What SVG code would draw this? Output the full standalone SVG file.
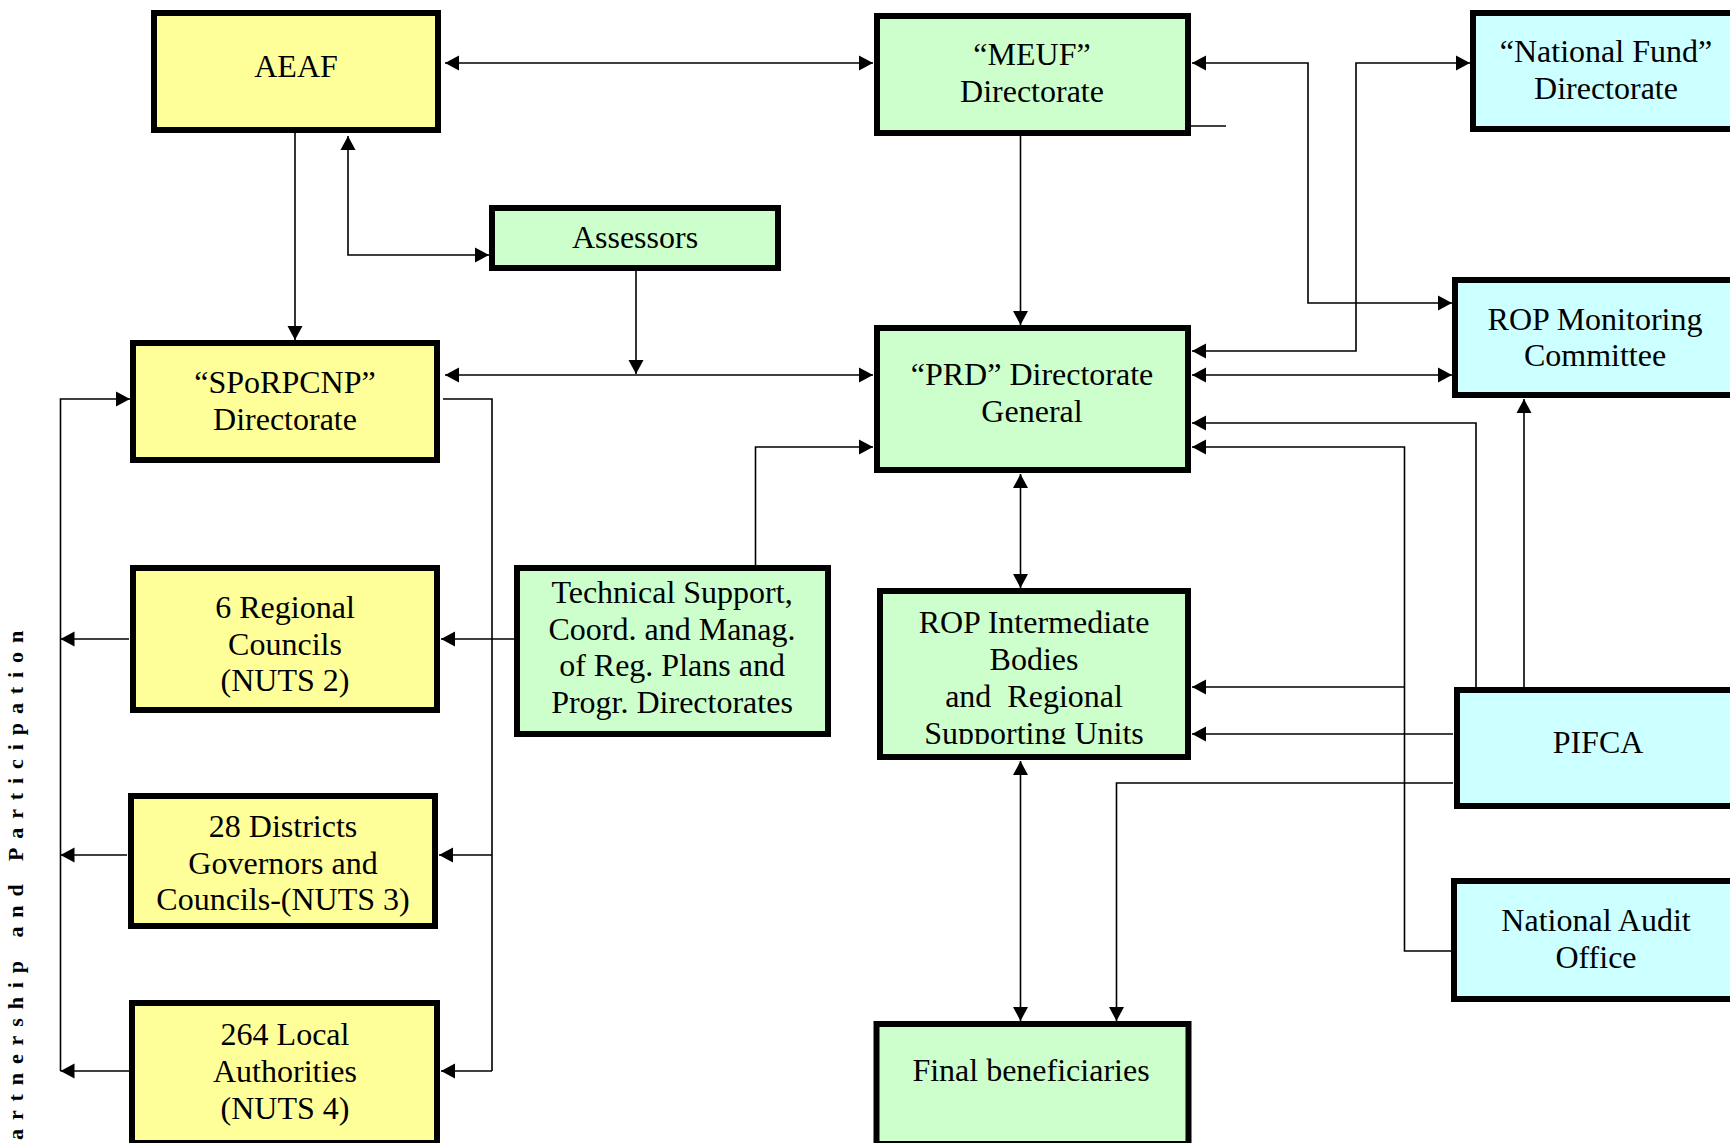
<svg xmlns="http://www.w3.org/2000/svg" width="1730" height="1143" viewBox="0 0 1730 1143">
<style>
.box{stroke:#000;stroke-width:6}
.y{fill:#FFFF99}
.g{fill:#CCFFCC}
.c{fill:#CCFFFF}
.t{font-family:"Liberation Serif","Times New Roman",serif;font-size:32px;fill:#000;text-anchor:middle}
.ln{fill:none;stroke:#000;stroke-width:1.6}
.side{font-family:"Liberation Serif","Times New Roman",serif;font-size:22px;font-weight:bold;letter-spacing:8.9px;fill:#000}
</style>
<defs>
<marker id="ah" markerUnits="userSpaceOnUse" markerWidth="15" markerHeight="16" refX="14" refY="7.5" orient="auto-start-reverse" viewBox="0 0 15 15">
<path d="M0,0 L14,7.5 L0,15 z" fill="#000"/>
</marker>
<clipPath id="clipRop"><rect x="870" y="580" width="330" height="164"/></clipPath>
</defs>
<rect width="1730" height="1143" fill="#fff"/>

<g id="connectors">
<path class="ln" d="M445,63 H873" marker-start="url(#ah)" marker-end="url(#ah)"/>
<path class="ln" d="M295,133 V340" marker-end="url(#ah)"/>
<path class="ln" d="M348,136 V255 H489" marker-start="url(#ah)" marker-end="url(#ah)"/>
<path class="ln" d="M636,271 V374" marker-end="url(#ah)"/>
<path class="ln" d="M445,375 H873" marker-start="url(#ah)" marker-end="url(#ah)"/>
<path class="ln" d="M1020.5,136 V325" marker-end="url(#ah)"/>
<path class="ln" d="M1192,63 H1308 V303 H1452" marker-start="url(#ah)" marker-end="url(#ah)"/>
<path class="ln" d="M1192,351 H1356 V63 H1470" marker-start="url(#ah)" marker-end="url(#ah)"/>
<path class="ln" d="M1192,375 H1452" marker-start="url(#ah)" marker-end="url(#ah)"/>
<path class="ln" d="M1192,423 H1476 V687" marker-start="url(#ah)"/>
<path class="ln" d="M1192,447 H1404.5 V951 H1451" marker-start="url(#ah)"/>
<path class="ln" d="M1192,687 H1404.5" marker-start="url(#ah)"/>
<path class="ln" d="M1524,687 V399" marker-end="url(#ah)"/>
<path class="ln" d="M1453,734 H1192" marker-end="url(#ah)"/>
<path class="ln" d="M1453,783 H1116.5 V1021" marker-end="url(#ah)"/>
<path class="ln" d="M1020.5,474 V588" marker-start="url(#ah)" marker-end="url(#ah)"/>
<path class="ln" d="M1020.5,761 V1021" marker-start="url(#ah)" marker-end="url(#ah)"/>
<path class="ln" d="M130,399 H60.5 V1071" marker-start="url(#ah)"/>
<path class="ln" d="M129,639 H60.5" marker-end="url(#ah)"/>
<path class="ln" d="M127,855 H60.5" marker-end="url(#ah)"/>
<path class="ln" d="M129,1071 H60.5" marker-end="url(#ah)"/>
<path class="ln" d="M443,399 H492 V1071"/>
<path class="ln" d="M514,639 H441" marker-end="url(#ah)"/>
<path class="ln" d="M492,855 H439" marker-end="url(#ah)"/>
<path class="ln" d="M492,1071 H441" marker-end="url(#ah)"/>
<path class="ln" d="M755.5,565 V447 H873" marker-end="url(#ah)"/>
<path class="ln" d="M1191,126 H1226" stroke-width="1.3"/>
</g>

<g id="aeaf">
<rect class="box y" x="154" y="13" width="284" height="117"/>
<text class="t" x="296" y="77">AEAF</text>
</g>
<g id="assessors">
<rect class="box g" x="492" y="208" width="286" height="60"/>
<text class="t" x="635" y="248">Assessors</text>
</g>
<g id="sporpcnp">
<rect class="box y" x="133" y="343" width="304" height="117"/>
<text class="t" x="285" y="392.5">“SPoRPCNP”</text>
<text class="t" x="285" y="429.5">Directorate</text>
</g>
<g id="meuf">
<rect class="box g" x="877" y="16" width="311" height="117"/>
<text class="t" x="1032" y="64.5">“MEUF”</text>
<text class="t" x="1032" y="101.5">Directorate</text>
</g>
<g id="national-fund">
<rect class="box c" x="1473" y="13" width="300" height="116"/>
<text class="t" x="1606" y="61.5">“National Fund”</text>
<text class="t" x="1606" y="98.5">Directorate</text>
</g>
<g id="rop-monitoring">
<rect class="box c" x="1455" y="280" width="320" height="115"/>
<text class="t" x="1595" y="329.5">ROP Monitoring</text>
<text class="t" x="1595" y="366">Committee</text>
</g>
<g id="prd">
<rect class="box g" x="877" y="328" width="311" height="142"/>
<text class="t" x="1032" y="385">“PRD” Directorate</text>
<text class="t" x="1032" y="421.5">General</text>
</g>
<g id="technical-support">
<rect class="box g" x="517" y="568" width="311" height="166"/>
<text class="t" x="672" y="603">Technical Support,</text>
<text class="t" x="672" y="639.5">Coord. and Manag.</text>
<text class="t" x="672" y="676">of Reg. Plans and</text>
<text class="t" x="672" y="712.5">Progr. Directorates</text>
</g>
<g id="regional-councils">
<rect class="box y" x="133" y="568" width="304" height="142"/>
<text class="t" x="285" y="618">6 Regional</text>
<text class="t" x="285" y="654.5">Councils</text>
<text class="t" x="285" y="691">(NUTS 2)</text>
</g>
<g id="districts">
<rect class="box y" x="131" y="796" width="304" height="130"/>
<text class="t" x="283" y="837">28 Districts</text>
<text class="t" x="283" y="873.5">Governors and</text>
<text class="t" x="283" y="910">Councils-(NUTS 3)</text>
</g>
<g id="local-authorities">
<rect class="box y" x="132" y="1003" width="305" height="140"/>
<text class="t" x="285" y="1045">264 Local</text>
<text class="t" x="285" y="1081.5">Authorities</text>
<text class="t" x="285" y="1118.5">(NUTS 4)</text>
</g>
<g id="rop-intermediate">
<rect class="box g" x="880" y="591" width="308" height="166"/>
<g clip-path="url(#clipRop)">
<text class="t" x="1034" y="633">ROP Intermediate</text>
<text class="t" x="1034" y="670">Bodies</text>
<text class="t" x="1034" y="706.5" xml:space="preserve">and  Regional</text>
<text class="t" x="1034" y="743.5">Supporting Units</text>
</g>
</g>
<g id="pifca">
<rect class="box c" x="1457" y="690" width="320" height="116"/>
<text class="t" x="1598" y="753">PIFCA</text>
</g>
<g id="national-audit">
<rect class="box c" x="1454" y="881" width="320" height="118"/>
<text class="t" x="1596" y="931">National Audit</text>
<text class="t" x="1596" y="968">Office</text>
</g>
<g id="final-beneficiaries">
<rect class="box g" x="876.5" y="1024" width="312" height="120"/>
<text class="t" x="1031" y="1080.5">Final beneficiaries</text>
</g>
<g id="side-label">
<text class="side" transform="translate(23,1140) rotate(-90)">artnership and Participation</text>
</g>
</svg>
